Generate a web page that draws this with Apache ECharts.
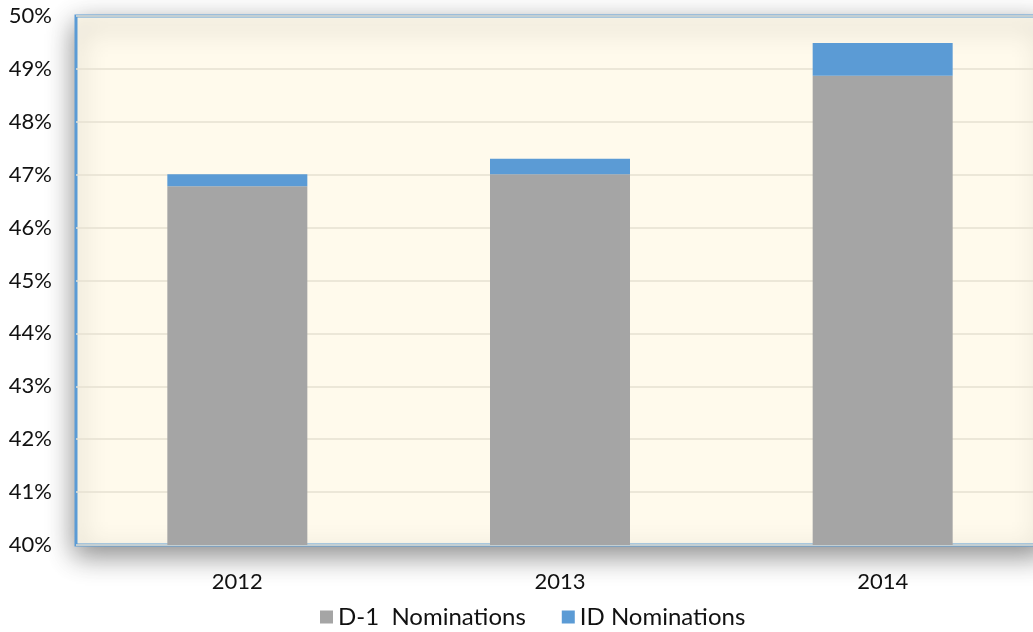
<!DOCTYPE html>
<html>
<head>
<meta charset="utf-8">
<script src="https://cdn.jsdelivr.net/npm/echarts@6/dist/echarts.min.js"></script>
<style>
  html, body { margin: 0; padding: 0; background: #ffffff; }
  #chart { width: 1033px; height: 632px; }
</style>
</head>
<body>
<div id="chart"></div>
<script>
// Nomination shares by year (percent)
const years = ['2012', '2013', '2014'];
const d1Nominations = [46.78, 47.01, 48.87];
const idNominations = [0.23, 0.29, 0.62];
const seriesNames = ['D-1  Nominations', 'ID Nominations'];

const chart = echarts.init(document.getElementById('chart'));
const font = 'Lato, "Open Sans", sans-serif';

chart.setOption({
  animation: false,
  backgroundColor: '#ffffff',
  grid: {
    show: true,
    left: 76,
    width: 968,
    top: 16,
    bottom: 87,
    outerBoundsMode: 'none',
    containLabel: false,
    backgroundColor: '#FFFAEC',
    borderColor: '#5B9BD5',
    borderWidth: 3,
    shadowColor: 'rgba(0,0,0,0.45)',
    shadowBlur: 26,
    shadowOffsetY: 9
  },
  legend: {
    bottom: -2,
    left: 315,
    icon: 'rect',
    itemWidth: 13,
    itemHeight: 13,
    itemGap: 36,
    textStyle: { fontFamily: font, fontSize: 24, color: '#111111' },
    data: seriesNames
  },
  xAxis: {
    type: 'category',
    data: years,
    axisLine: { show: false },
    axisTick: { show: false },
    axisLabel: { fontFamily: font, fontSize: 22, color: '#111111', margin: 26 }
  },
  yAxis: {
    type: 'value',
    min: 40,
    max: 50,
    interval: 1,
    axisLine: { show: false },
    axisTick: { show: false },
    splitLine: { lineStyle: { color: '#E6E0D2', width: 1.5 } },
    axisLabel: {
      fontFamily: font, fontSize: 22, color: '#111111', margin: 24,
      formatter: '{value}%'
    }
  },
  series: [
    {
      name: seriesNames[0],
      type: 'bar',
      stack: 'total',
      barWidth: 140,
      itemStyle: { color: '#A5A5A5' },
      data: d1Nominations
    },
    {
      name: seriesNames[1],
      type: 'bar',
      stack: 'total',
      barWidth: 140,
      itemStyle: { color: '#5B9BD5' },
      data: idNominations
    }
  ]
});
</script>
</body>
</html>
